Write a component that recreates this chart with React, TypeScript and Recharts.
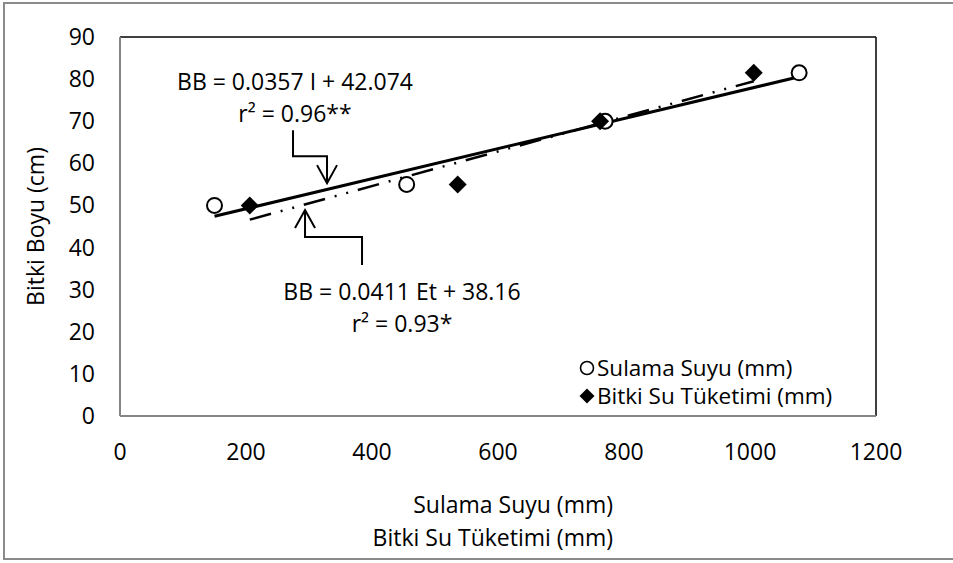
import {
  ScatterChart,
  Scatter,
  XAxis,
  YAxis,
  ReferenceLine,
  ReferenceDot,
  Label,
} from "recharts";

// eksen bölmeleri
const xTicks = [0, 200, 400, 600, 800, 1000, 1200];
const yTicks = [0, 10, 20, 30, 40, 50, 60, 70, 80, 90];

// sulama suyu (mm) - bitki boyu (cm)
const sulamaX = [150, 455, 770, 1078];
const sulamaBoy = [50, 55, 70, 81.5];

// bitki su tüketimi (mm) - bitki boyu (cm)
const tuketimX = [206, 536, 762, 1006];
const tuketimBoy = [50, 55, 70, 81.5];

// regresyon katsayıları (grafikteki denklemler)
const sulamaEgim = 0.0357;
const sulamaSabit = 42.074;
const tuketimEgim = 0.0411;
const tuketimSabit = 38.16;

const FONT = "'Open Sans', sans-serif";
const FS = 23;
const AXIS_GRAY = "#868686";

const sulamaData = sulamaX.map((x, i) => ({ x, y: sulamaBoy[i] }));
const tuketimData = tuketimX.map((x, i) => ({ x, y: tuketimBoy[i] }));

const fit = (a: number, b: number, x: number) => a * x + b;

const sMin = Math.min(...sulamaX);
const sMax = Math.max(...sulamaX);
const tMin = Math.min(...tuketimX);
const tMax = Math.max(...tuketimX);

const txt = { fontFamily: FONT, fontSize: FS, fill: "#000" } as const;

const XTick = ({ x, y, payload }: any) => (
  <text x={x} y={y} dy={44} textAnchor="middle" {...txt}>
    {payload.value}
  </text>
);

const YTick = ({ x, y, payload }: any) => (
  <text x={x - 25} y={y} dy={8} textAnchor="end" {...txt}>
    {payload.value}
  </text>
);

const Circle = ({ cx, cy }: any) => (
  <circle cx={cx} cy={cy} r={7.5} fill="#fff" stroke="#000" strokeWidth={2} />
);

const Diamond = ({ cx, cy }: any) => (
  <path
    d={`M${cx},${cy - 9} L${cx + 9},${cy} L${cx},${cy + 9} L${cx - 9},${cy} Z`}
    fill="#000"
  />
);

// üstteki denklem ve oku (ok ucu noktaya göre)
const UpperNote = ({ cx, cy }: any) => (
  <g>
    <path
      d={`M${cx - 34},${cy - 53} V${cy - 27} H${cx} V${cy}`}
      fill="none"
      stroke="#000"
      strokeWidth={2}
    />
    <path
      d={`M${cx - 10},${cy - 18} L${cx},${cy} L${cx + 10},${cy - 18}`}
      fill="none"
      stroke="#000"
      strokeWidth={2}
    />
    <text x={cx - 32} y={cy - 93} textAnchor="middle" {...txt}>
      BB = 0.0357 I + 42.074
    </text>
    <text x={cx - 32} y={cy - 61} textAnchor="middle" {...txt}>
      r² = 0.96**
    </text>
  </g>
);

// alttaki denklem ve oku
const LowerNote = ({ cx, cy }: any) => (
  <g>
    <path
      d={`M${cx},${cy} V${cy + 27} H${cx + 57} V${cy + 55}`}
      fill="none"
      stroke="#000"
      strokeWidth={2}
    />
    <path
      d={`M${cx - 10},${cy + 18} L${cx},${cy} L${cx + 10},${cy + 18}`}
      fill="none"
      stroke="#000"
      strokeWidth={2}
    />
    <text x={cx + 97} y={cy + 90} textAnchor="middle" {...txt}>
      BB = 0.0411 Et + 38.16
    </text>
    <text x={cx + 97} y={cy + 122} textAnchor="middle" {...txt}>
      r² = 0.93*
    </text>
  </g>
);

const legendItems = [
  { name: "Sulama Suyu (mm)", kind: "circle" },
  { name: "Bitki Su Tüketimi (mm)", kind: "diamond" },
];

const ChartLegend = () => (
  <div
    style={{
      position: "absolute",
      left: 578,
      top: 354,
      fontFamily: FONT,
      fontSize: 22.5,
      color: "#000",
    }}
  >
    {legendItems.map((it) => (
      <div
        key={it.name}
        style={{ display: "flex", alignItems: "center", height: 28, lineHeight: "28px" }}
      >
        <svg width={18} height={18} style={{ marginRight: 1 }}>
          {it.kind === "circle" ? (
            <circle cx={9} cy={9} r={6.5} fill="#fff" stroke="#000" strokeWidth={1.6} />
          ) : (
            <path d="M9,1.5 L16.5,9 L9,16.5 L1.5,9 Z" fill="#000" />
          )}
        </svg>
        <span style={{ lineHeight: "28px" }}>{it.name}</span>
      </div>
    ))}
  </div>
);

export default function App() {
  return (
    <div
      style={{
        position: "fixed",
        left: 0,
        top: 0,
        width: 953,
        height: 563,
        background: "#fff",
        overflow: "hidden",
      }}
    >
      <div
        style={{
          position: "absolute",
          left: 3,
          top: 2,
          width: 1000,
          height: 558,
          border: "2px solid #8a8a8a",
          boxSizing: "border-box",
        }}
      />
      <ScatterChart
        width={953}
        height={563}
        margin={{ top: 37, right: 77, bottom: 0, left: 0 }}
      >
        <XAxis
          type="number"
          dataKey="x"
          domain={[0, 1200]}
          ticks={xTicks}
          interval={0}
          tickLine={false}
          tickSize={0}
          tickMargin={0}
          height={147}
          axisLine={{ stroke: AXIS_GRAY, strokeWidth: 2 }}
          tick={(p: any) => <XTick {...p} />}
        >
          <Label
            content={({ viewBox }: any) => (
              <text textAnchor="end" {...txt}>
                <tspan x={viewBox.x + 493} y={viewBox.y + 97}>
                  Sulama Suyu (mm)
                </tspan>
                <tspan x={viewBox.x + 493} y={viewBox.y + 130}>
                  Bitki Su Tüketimi (mm)
                </tspan>
              </text>
            )}
          />
        </XAxis>
        <YAxis
          type="number"
          dataKey="y"
          domain={[0, 90]}
          ticks={yTicks}
          interval={0}
          tickLine={false}
          tickSize={0}
          tickMargin={0}
          width={120}
          axisLine={{ stroke: AXIS_GRAY, strokeWidth: 2 }}
          tick={(p: any) => <YTick {...p} />}
        >
          <Label
            content={({ viewBox }: any) => {
              const x = viewBox.x + 35;
              const y = viewBox.y + viewBox.height / 2;
              return (
                <text
                  x={x}
                  y={y}
                  textAnchor="middle"
                  dominantBaseline="central"
                  transform={`rotate(-90, ${x}, ${y})`}
                  {...txt}
                >
                  Bitki Boyu (cm)
                </text>
              );
            }}
          />
        </YAxis>

        {/* çizim alanı üst ve sağ çerçevesi */}
        <ReferenceLine y={90} stroke="#000" strokeWidth={1.5} />
        <ReferenceLine x={1200} stroke="#000" strokeWidth={1.5} />

        <Scatter
          name="Sulama Suyu (mm)"
          data={sulamaData}
          shape={(p: any) => <Circle {...p} />}
          isAnimationActive={false}
        />
        <Scatter
          name="Bitki Su Tüketimi (mm)"
          data={tuketimData}
          shape={(p: any) => <Diamond {...p} />}
          isAnimationActive={false}
        />

        {/* doğrusal eğilim çizgileri */}
        <ReferenceLine
          segment={[
            { x: sMin, y: fit(sulamaEgim, sulamaSabit, sMin) },
            { x: sMax, y: fit(sulamaEgim, sulamaSabit, sMax) },
          ]}
          stroke="#000"
          strokeWidth={3}
        />
        <ReferenceLine
          segment={[
            { x: tMin, y: fit(tuketimEgim, tuketimSabit, tMin) },
            { x: tMax, y: fit(tuketimEgim, tuketimSabit, tMax) },
          ]}
          stroke="#000"
          strokeWidth={2.5}
          strokeDasharray="22 10 2 10 2 10"
        />

        <ReferenceDot
          x={328.6}
          y={55.3}
          r={0}
          shape={(p: any) => <UpperNote {...p} />}
        />
        <ReferenceDot
          x={293.7}
          y={48.9}
          r={0}
          shape={(p: any) => <LowerNote {...p} />}
        />
      </ScatterChart>
      <ChartLegend />
    </div>
  );
}
